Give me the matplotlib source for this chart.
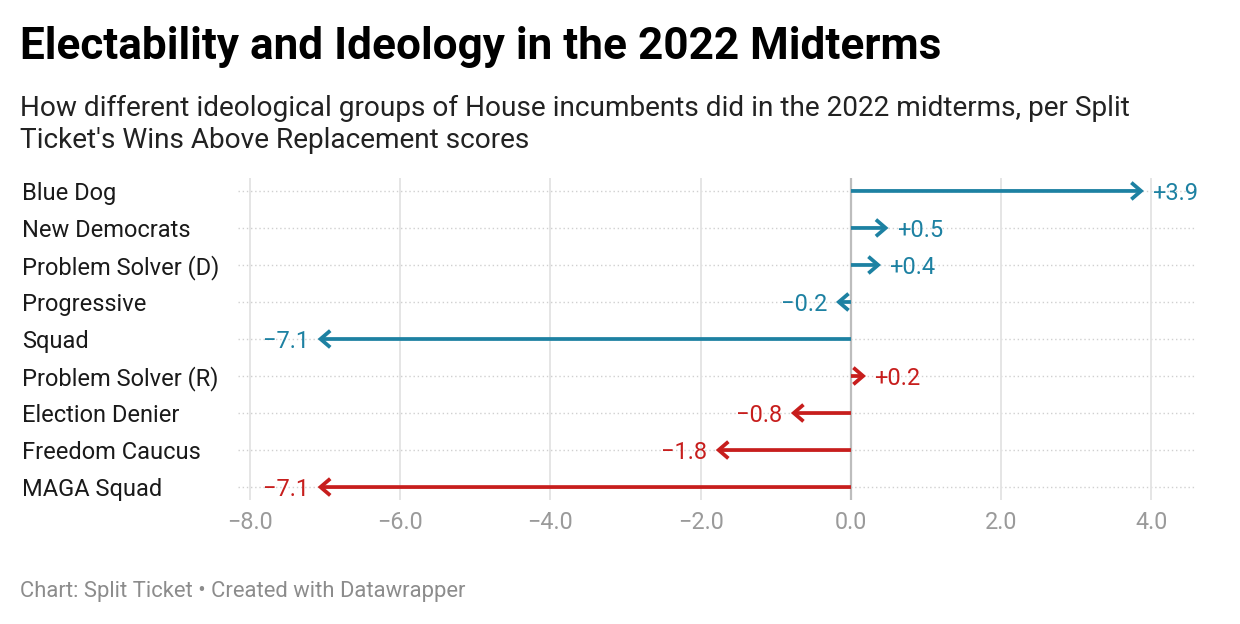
import numpy as np
import matplotlib.pyplot as plt
from matplotlib.transforms import blended_transform_factory

plt.rcParams['font.family'] = ['Roboto', 'DejaVu Sans']

# data
groups = ["Blue Dog", "New Democrats", "Problem Solver (D)", "Progressive", "Squad",
          "Problem Solver (R)", "Election Denier", "Freedom Caucus", "MAGA Squad"]
war = [3.9, 0.5, 0.4, -0.2, -7.1, 0.2, -0.8, -1.8, -7.1]
party = ["D", "D", "D", "D", "D", "R", "R", "R", "R"]
xticks = [-8.0, -6.0, -4.0, -2.0, 0.0, 2.0, 4.0]

colors = {"D": "#1d81a2", "R": "#c71e1d"}

W, H = 1240, 624
fig = plt.figure(figsize=(W / 100, H / 100), dpi=100)
fig.patch.set_facecolor("white")

# axes placement in pixels
left, right, top, bottom = 238, 1195, 178, 500
ax = fig.add_axes([left / W, 1 - bottom / H, (right - left) / W, (bottom - top) / H])
ax.set_xlim(-8.16, 4.58)
ax.set_ylim(len(groups) - 1 + 0.35, -0.35)

for s in ax.spines.values():
    s.set_visible(False)
ax.set_yticks([])
ax.set_xticks(xticks)
ax.set_xticklabels(["\u2212%.1f" % abs(t) if t < 0 else "%.1f" % t for t in xticks],
                   fontsize=16.8, color="#9a9a9a")
ax.tick_params(axis="x", length=0, pad=8)

for t in xticks:
    ax.axvline(t, color="#bdbdbd" if t == 0 else "#e3e3e3", lw=1.6 if t == 0 else 1.3, zorder=1)

trans = blended_transform_factory(fig.transFigure, ax.transData)
for i, (g, v, p) in enumerate(zip(groups, war, party)):
    c = colors[p]
    ax.plot([-8.16, 4.58], [i, i], color="#d0d0d0", lw=1.0, ls=(0, (1, 2)), zorder=0)
    ax.annotate("", xy=(v, i), xytext=(0, i),
                arrowprops=dict(arrowstyle="->,head_length=0.7,head_width=0.6",
                                color=c, lw=2.7, shrinkA=0, shrinkB=0,
                                joinstyle="miter", capstyle="butt"), zorder=3)
    lab = ("+%.1f" % v) if v > 0 else "\u2212%.1f" % abs(v)
    if v > 0:
        ax.annotate(lab, xy=(v, i), xytext=(6, 0), textcoords="offset points",
                    ha="left", va="center_baseline", fontsize=17, color=c)
    else:
        ax.annotate(lab, xy=(v, i), xytext=(-6, 0), textcoords="offset points",
                    ha="right", va="center_baseline", fontsize=17, color=c)
    ax.text(22 / W, i, g, transform=trans, ha="left", va="center_baseline",
            fontsize=17, color="#1a1a1a")

fig.text(20 / W, 1 - 47 / H, "Electability and Ideology in the 2022 Midterms",
         fontsize=31.8, fontweight="bold", color="#000000", ha="left", va="center")
fig.text(20 / W, 1 - 108 / H,
         "How different ideological groups of House incumbents did in the 2022 midterms, per Split",
         fontsize=20.2, color="#222222", ha="left", va="center")
fig.text(20 / W, 1 - 141 / H, "Ticket's Wins Above Replacement scores",
         fontsize=20.2, color="#222222", ha="left", va="center")
fig.text(20 / W, 1 - 591 / H, "Chart: Split Ticket \u2022 Created with Datawrapper",
         fontsize=15.8, color="#8c8c8c", ha="left", va="center")

fig.savefig("out.png", dpi=100, facecolor="white")
